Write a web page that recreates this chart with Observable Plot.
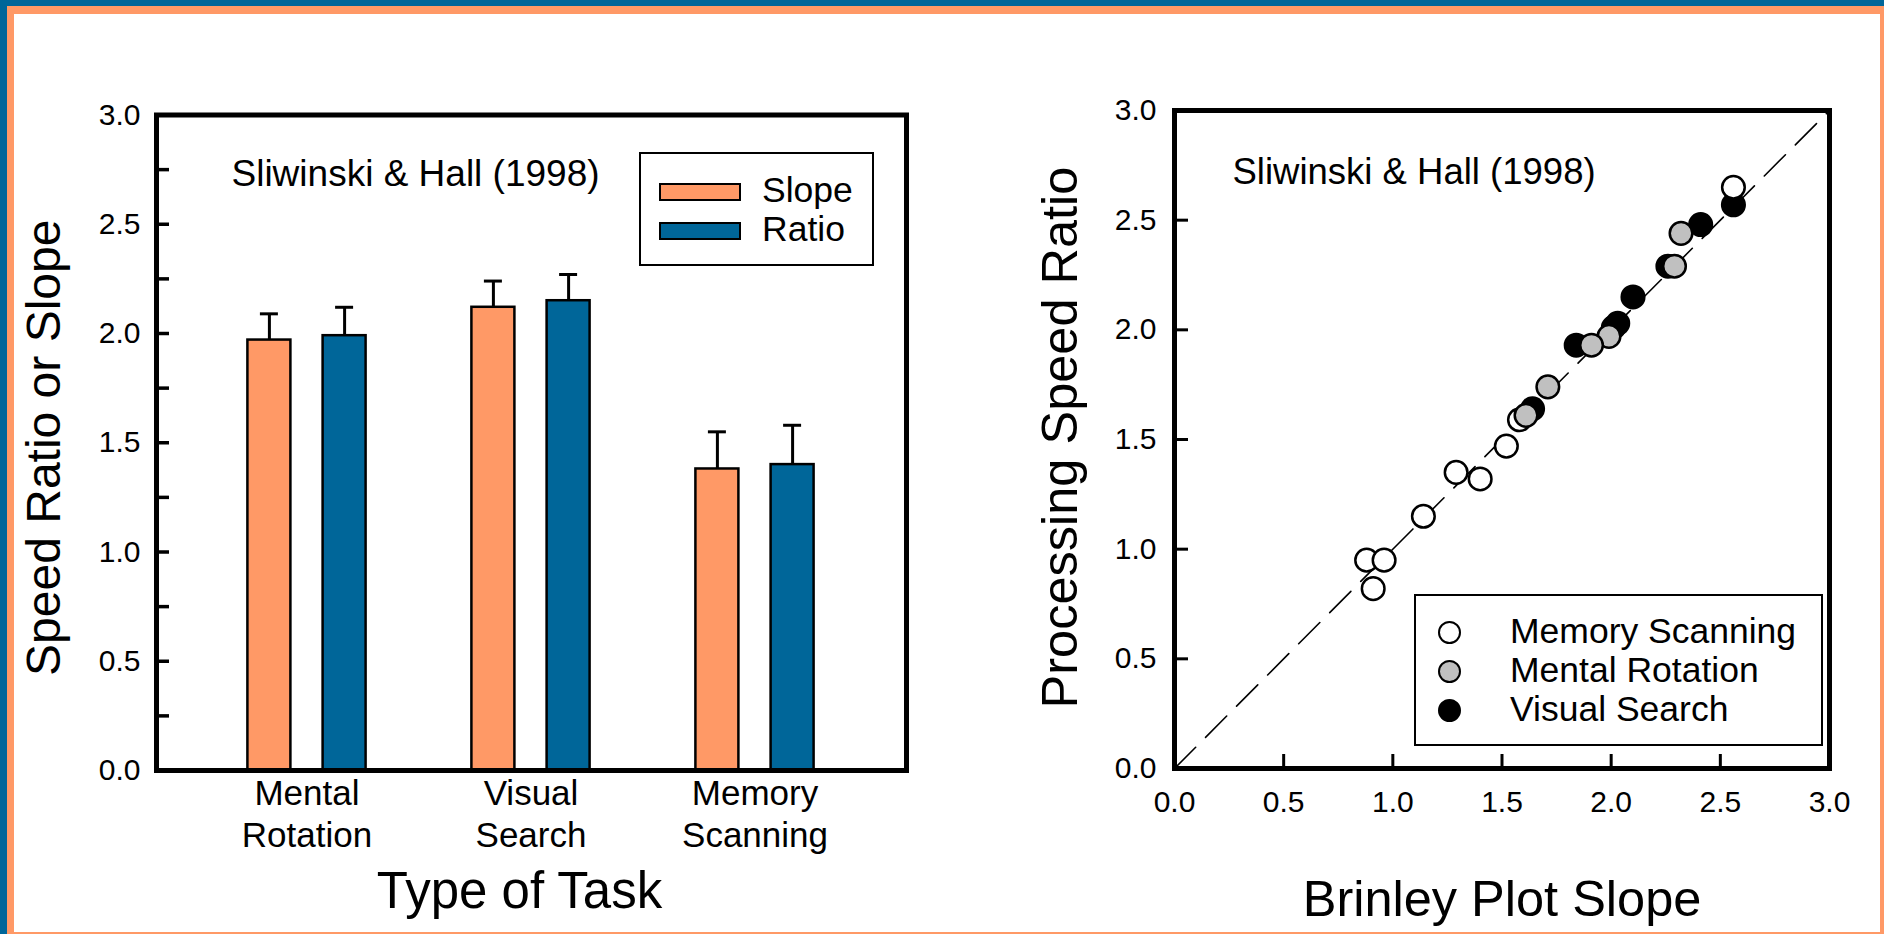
<!DOCTYPE html>
<html>
<head>
<meta charset="utf-8">
<script src="https://cdn.jsdelivr.net/npm/d3@7"></script>
<script src="https://cdn.jsdelivr.net/npm/@observablehq/plot@0.6"></script>
<style>
  html, body { margin: 0; padding: 0; overflow: hidden; background: #006699; }
  #page { position: relative; width: 1884px; height: 934px; overflow: hidden; background: #006699;
          font-family: "Liberation Sans", Arial, Helvetica, sans-serif; color: #000; }
  #band { position: absolute; left: 7px; top: 6px; width: 1877px; height: 928px; background: #FF9966; }
  #sheet { position: absolute; left: 14px; top: 14px; width: 1866px; height: 918px; background: #fff; }
  .panel { position: absolute; top: 0; }
  .panel svg { display: block; max-width: none; }
  .box { position: absolute; box-sizing: border-box; border: 2.5px solid #000; background: #fff; }
  .swatch { position: absolute; box-sizing: border-box; border: 2.5px solid #000; width: 82px; height: 18px; }
  .key { position: absolute; box-sizing: border-box; border: 2.5px solid #000; border-radius: 50%; width: 23px; height: 23px; }
  .ltext { position: absolute; font-size: 35.5px; line-height: 35px; white-space: nowrap; }
</style>
</head>
<body>
<div id="page">
  <div id="band"></div>
  <div id="sheet"></div>
  <div id="left" class="panel" style="left:0px;width:960px;height:934px"></div>
  <div id="right" class="panel" style="left:960px;width:924px;height:934px"></div>
  <div id="legends"></div>
</div>
<script>
// ---- Bar chart: slope vs. ratio by task type ----
const tasks = ["Mental Rotation", "Visual Search", "Memory Scanning"];
const taskLabels = ["Mental\nRotation", "Visual\nSearch", "Memory\nScanning"];
const slopeMeans = [1.97, 2.12, 1.38];
const slopeErrors = [0.12, 0.12, 0.17];
const ratioMeans = [1.99, 2.15, 1.40];
const ratioErrors = [0.13, 0.12, 0.18];
const barSeries = ["Slope", "Ratio"];

// ---- Scatter: Brinley plot slope vs. processing speed ratio ----
const memoryScanningSlope = [2.56, 0.88, 0.96, 0.91, 1.14, 1.29, 1.40, 1.52, 1.58];
const memoryScanningRatio = [2.65, 0.95, 0.95, 0.82, 1.15, 1.35, 1.32, 1.47, 1.59];
const mentalRotationSlope = [2.32, 2.29, 1.99, 1.91, 1.71, 1.61];
const mentalRotationRatio = [2.44, 2.29, 1.97, 1.93, 1.74, 1.61];
const visualSearchSlope = [2.56, 2.41, 2.10, 2.01, 2.03, 1.84, 1.64, 2.26];
const visualSearchRatio = [2.57, 2.48, 2.15, 2.01, 2.03, 1.93, 1.64, 2.29];
const scatterSeries = ["Memory Scanning", "Mental Rotation", "Visual Search"];

// ---- Axes and labels ----
const axisMajorTicks = [0, 0.5, 1.0, 1.5, 2.0, 2.5, 3.0];
const axisMinorTicks = [0, 0.25, 0.5, 0.75, 1.0, 1.25, 1.5, 1.75, 2.0, 2.25, 2.5, 2.75, 3.0];
const identityLine = [0, 3];
const sourceNote = "Sliwinski & Hall (1998)";
const leftYTitle = "Speed Ratio or Slope";
const leftXTitle = "Type of Task";
const rightYTitle = "Processing Speed Ratio";
const rightXTitle = "Brinley Plot Slope";

const ORANGE = "#FF9966";
const BLUE = "#006699";
const GRAY = "#C0C0C0";
const FONT = '"Liberation Sans", Arial, Helvetica, sans-serif';
const fmt = d3.format(".1f");

const rows = tasks.map((task, i) => ({
  task,
  label: taskLabels[i],
  slope: slopeMeans[i],
  slopeTop: slopeMeans[i] + slopeErrors[i],
  ratio: ratioMeans[i],
  ratioTop: ratioMeans[i] + ratioErrors[i]
}));

const pairs = (xs, ys) => xs.map((x, i) => ({x, y: ys[i]}));
const memoryScanning = pairs(memoryScanningSlope, memoryScanningRatio);
const mentalRotation = pairs(mentalRotationSlope, mentalRotationRatio);
const visualSearch = pairs(visualSearchSlope, visualSearchRatio);

// Left panel: frame 750 x 655.5 px
const leftPlot = Plot.plot({
  width: 960,
  height: 934,
  marginLeft: 156,
  marginRight: 54,
  marginTop: 114.5,
  marginBottom: 164,
  style: {background: "transparent", fontFamily: FONT, fontSize: "30px", color: "#000"},
  x: {domain: tasks, paddingInner: 0.2, paddingOuter: 0.26667, axis: null},
  y: {domain: [0, 3], ticks: axisMajorTicks, tickFormat: fmt, tickSize: 0, tickPadding: 16, label: null},
  marks: [
    // bars (each group band is 180 px wide; bars are 44 px, centred 37.6 px either side)
    Plot.barY(rows, {x: "task", y: "slope", fill: ORANGE, stroke: "#000", strokeWidth: 2.5,
      insetLeft: 30.4, insetRight: 105.6}),
    Plot.barY(rows, {x: "task", y: "ratio", fill: BLUE, stroke: "#000", strokeWidth: 2.5,
      insetLeft: 105.6, insetRight: 30.4}),
    // error bars
    Plot.ruleX(rows, {x: "task", y1: "slope", y2: "slopeTop", dx: -37.6, stroke: "#000", strokeWidth: 3}),
    Plot.ruleX(rows, {x: "task", y1: "ratio", y2: "ratioTop", dx: 37.6, stroke: "#000", strokeWidth: 3}),
    Plot.tickY(rows, {x: "task", y: "slopeTop", stroke: "#000", strokeWidth: 3, insetLeft: 42.9, insetRight: 118.1}),
    Plot.tickY(rows, {x: "task", y: "ratioTop", stroke: "#000", strokeWidth: 3, insetLeft: 118.1, insetRight: 42.9}),
    // inward y ticks
    Plot.ruleY(axisMinorTicks, {y: d => d, stroke: "#000", strokeWidth: 3.5, insetRight: 737}),
    // category labels
    Plot.text(rows, {x: "task", text: "label", frameAnchor: "bottom", lineAnchor: "top",
      dy: 5, fontSize: 35, lineHeight: 1.2, fill: "#000"}),
    // source note
    Plot.text([sourceNote], {text: d => d, frameAnchor: "top-left", textAnchor: "start", lineAnchor: "middle",
      dx: 75, dy: 59.3, fontSize: 37, fill: "#000"}),
    // axis titles
    Plot.text([leftYTitle], {text: d => d, frameAnchor: "left", textAnchor: "middle", lineAnchor: "middle",
      rotate: -90, dx: -111.4, dy: 5, fontSize: 48, fill: "#000"}),
    Plot.text([leftXTitle], {text: d => d, frameAnchor: "bottom", textAnchor: "middle", lineAnchor: "bottom",
      dx: -12, dy: 137, fontSize: 51, fill: "#000"}),
    Plot.frame({stroke: "#000", strokeWidth: 5})
  ]
});
document.getElementById("left").append(leftPlot);

// Right panel: frame 655 x 658 px
const rightPlot = Plot.plot({
  width: 924,
  height: 934,
  marginLeft: 214,
  marginRight: 55,
  marginTop: 110,
  marginBottom: 166,
  style: {background: "transparent", fontFamily: FONT, fontSize: "30px", color: "#000"},
  x: {domain: [0, 3], ticks: axisMajorTicks, tickFormat: fmt, tickSize: 0, tickPadding: 22, label: null},
  y: {domain: [0, 3], ticks: axisMajorTicks, tickFormat: fmt, tickSize: 0, tickPadding: 18, label: null},
  marks: [
    Plot.line(identityLine, {x: d => d, y: d => d, stroke: "#000", strokeWidth: 1.6, strokeDasharray: "30,14"}),
    Plot.dot(visualSearch, {x: "x", y: "y", r: 11.3, fill: "#000", stroke: "#000", strokeWidth: 2.5}),
    Plot.dot(memoryScanning, {x: "x", y: "y", r: 11.3, fill: "#fff", stroke: "#000", strokeWidth: 2.5}),
    Plot.dot(mentalRotation, {x: "x", y: "y", r: 11.3, fill: GRAY, stroke: "#000", strokeWidth: 2.5}),
    // inward ticks
    Plot.ruleX(axisMajorTicks, {x: d => d, stroke: "#000", strokeWidth: 3, insetTop: 644}),
    Plot.ruleY(axisMajorTicks, {y: d => d, stroke: "#000", strokeWidth: 3, insetRight: 641}),
    Plot.text([sourceNote], {text: d => d, frameAnchor: "top-left", textAnchor: "start", lineAnchor: "middle",
      dx: 58, dy: 61.8, fontSize: 36.5, fill: "#000"}),
    Plot.text([rightYTitle], {text: d => d, frameAnchor: "left", textAnchor: "middle", lineAnchor: "middle",
      rotate: -90, dx: -113.5, dy: -2, fontSize: 50.5, fill: "#000"}),
    Plot.text([rightXTitle], {text: d => d, frameAnchor: "bottom", textAnchor: "middle", lineAnchor: "bottom",
      dy: 147, fontSize: 50.5, fill: "#000"}),
    Plot.frame({stroke: "#000", strokeWidth: 5})
  ]
});
document.getElementById("right").append(rightPlot);

// Legends
const legends = document.getElementById("legends");
function add(cls, style, text) {
  const el = document.createElement("div");
  el.className = cls;
  Object.assign(el.style, style);
  if (text) el.textContent = text;
  legends.append(el);
}
// bar legend
add("box", {left: "639px", top: "152px", width: "235px", height: "114px"});
const barColors = [ORANGE, BLUE];
const barRowTops = [183, 222];
barSeries.forEach((name, i) => {
  add("swatch", {left: "659px", top: barRowTops[i] + "px", background: barColors[i]});
  add("ltext", {left: "762px", top: (barRowTops[i] - 10.5) + "px"}, name);
});
// scatter legend
add("box", {left: "1414px", top: "594px", width: "409px", height: "152px"});
const keyFills = ["#fff", GRAY, "#000"];
const keyRowCenters = [632, 671, 710];
scatterSeries.forEach((name, i) => {
  add("key", {left: (1449 - 11.5) + "px", top: (keyRowCenters[i] - 11.5) + "px", background: keyFills[i]});
  add("ltext", {left: "1510px", top: (keyRowCenters[i] - 18) + "px"}, name);
});
</script>
</body>
</html>
